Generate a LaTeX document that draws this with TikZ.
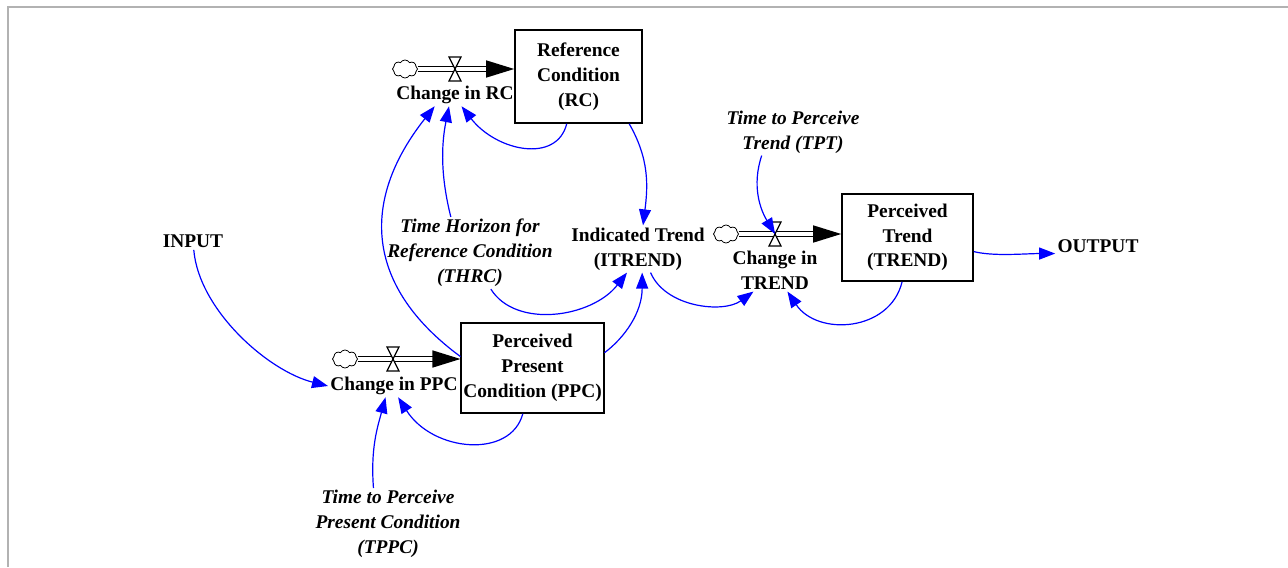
\documentclass[tikz,border=0pt]{standalone}
\usepackage{fontspec}
\setmainfont{Liberation Serif}
\usetikzlibrary{arrows.meta,shapes.symbols}

\begin{document}
\begin{tikzpicture}
[x=0.5pt,y=-0.5pt,font=\fontsize{9.7}{12.4}\selectfont\bfseries]
\tikzstyle{stock node}=[draw,line width=0.8pt,align=center,inner sep=1pt]
\tikzstyle{label node}=[align=center,inner sep=1pt]
\tikzstyle{aux node}=[label node,font=\fontsize{9.7}{12.4}\selectfont\bfseries\itshape]
\tikzstyle{cloud node}=[cloud,draw,line width=0.4pt,cloud puffs=8,cloud puff arc=120,aspect=1.4,inner sep=0,minimum width=12.5pt,minimum height=9pt]
\tikzstyle{flow pipe}=[draw,line width=0.7pt,double,double distance=2pt,-{Triangle[length=14pt,width=8.5pt]}]
\tikzstyle{valve}=[draw,fill=white,line width=0.6pt]
\tikzstyle{info link}=[draw=blue,line width=0.6pt,-{Triangle[length=8pt,width=6pt]}]

\useasboundingbox (0,0) rectangle (1288,567);
\draw[gray!60,line width=0.7pt] (8,567) -- (8,7) -- (1288,7);

% stocks
\node(RC)[stock node,minimum width=63.5pt,minimum height=46.5pt] at (578.5,76.5) {Reference\\Condition\\(RC)};
\node(PPC)[stock node,minimum width=69.5pt,minimum height=45pt] at (532.5,368) {Perceived\\Present\\Condition (PPC)};
\node(TREND)[stock node,minimum width=65.5pt,minimum height=43.5pt] at (907.5,237.5) {Perceived\\Trend\\(TREND)};

% flows
\node(cRC)[cloud node] at (405,69) {};
\node(cPPC)[cloud node] at (345,359) {};
\node(cTR)[cloud node] at (726,234) {};
\coordinate(vRC) at (455,69);
\coordinate(vPPC) at (393,359);
\coordinate(vTR) at (775,234);
\draw[flow pipe] (cRC.east) -- (cRC.east -| RC.west);
\draw[flow pipe] (cPPC.east) -- (cPPC.east -| PPC.west);
\draw[flow pipe] (cTR.east) -- (cTR.east -| TREND.west);
\draw[valve] (vRC) ++(-6,-12) -- ++(12,0) -- ++(-12,24) -- ++(12,0) -- cycle;
\draw[valve] (vPPC) ++(-6,-12) -- ++(12,0) -- ++(-12,24) -- ++(12,0) -- cycle;
\draw[valve] (vTR) ++(-6,-12) -- ++(12,0) -- ++(-12,24) -- ++(12,0) -- cycle;
\node(lRC)[label node] at (455,95) {Change in RC};
\node(lPPC)[label node] at (394,386) {Change in PPC};
\node(lTR)[label node] at (775,270) {Change in\\TREND};

% auxiliaries
\node(ITREND)[label node] at (638,249) {Indicated Trend\\(ITREND)};
\node(THRC)[aux node] at (470,253) {Time Horizon for\\Reference Condition\\(THRC)};
\node(TPPC)[aux node] at (388,524) {Time to Perceive\\Present Condition\\(TPPC)};
\node(TPT)[aux node] at (793,132) {Time to Perceive\\Trend (TPT)};
\node(INPUT)[label node] at (193,241) {INPUT};
\node(OUTPUT)[label node] at (1098,246) {OUTPUT};

% links
\draw[info link] (RC.-104) .. controls +(-10,40) and +(35,45) .. (lRC.-60);
\draw[info link] (RC.-43) .. controls +(20,35) and +(5,-40) .. (ITREND.78);
\draw[info link] (THRC.118) .. controls +(-10,-40) and +(-8,40) .. (lRC.-118);
\draw[info link] (PPC.171) .. controls +(-95,-70) and +(-75,95) .. (lRC.-151);
\draw[info link] (THRC.-60) .. controls +(25,40) and +(-35,45) .. (ITREND.-115);
\draw[info link] (PPC.12) .. controls +(20,-15) and +(0,40) .. (ITREND.-80);
\draw[info link] (ITREND.-62) .. controls +(15,35) and +(-30,22) .. (lTR.-135);
\draw[info link] (TPT.-143) .. controls +(-10,30) and +(-15,-25) .. (vTR);
\draw[info link] (TREND.-97) .. controls +(-12,50) and +(30,45) .. (lTR.-60);
\draw[info link] (TREND.-12) .. controls +(20,5) and +(-30,0) .. (OUTPUT.-170);
\draw[info link] (INPUT.-85) .. controls +(5,60) and +(-60,-15) .. (lPPC.west);
\draw[info link] (TPPC.112) .. controls +(-3,-40) and +(-8,30) .. (lPPC.-127);
\draw[info link] (PPC.-102) .. controls +(-12,45) and +(35,55) .. (lPPC.-70);
\end{tikzpicture}
\end{document}
